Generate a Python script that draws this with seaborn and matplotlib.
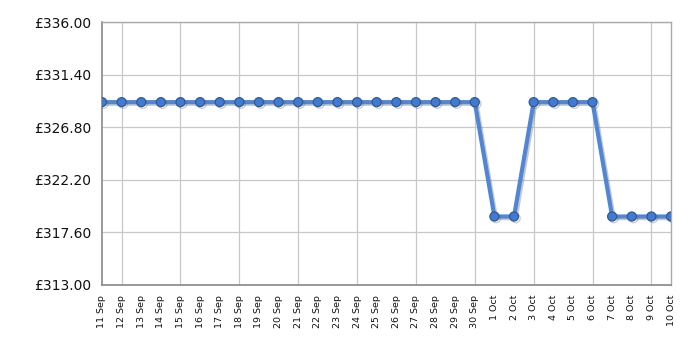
import matplotlib
matplotlib.use("Agg")
import matplotlib.pyplot as plt
import matplotlib.patheffects as pe
import seaborn as sns
import pandas as pd
import numpy as np

dates = ["11 Sep", "12 Sep", "13 Sep", "14 Sep", "15 Sep", "16 Sep", "17 Sep", "18 Sep",
         "19 Sep", "20 Sep", "21 Sep", "22 Sep", "23 Sep", "24 Sep", "25 Sep", "26 Sep",
         "27 Sep", "28 Sep", "29 Sep", "30 Sep", "1 Oct", "2 Oct", "3 Oct", "4 Oct",
         "5 Oct", "6 Oct", "7 Oct", "8 Oct", "9 Oct", "10 Oct"]
prices = [328.99] * 20 + [318.99, 318.99] + [328.99] * 4 + [318.99] * 4
y_ticks = [313.00, 317.60, 322.20, 326.80, 331.40, 336.00]
y_labels = ["£313.00", "£317.60", "£322.20", "£326.80", "£331.40", "£336.00"]

df = pd.DataFrame({"idx": range(len(dates)), "date": dates, "price": prices})

sns.set_style("white")
plt.rcParams["font.family"] = ["DejaVu Sans"]

fig = plt.figure(figsize=(7, 3.5), dpi=100)
ax = fig.add_axes([102 / 700, 1 - 285 / 350, 569 / 700, 263 / 350])

sns.lineplot(data=df, x="idx", y="price", ax=ax, color="#4f86d8", linewidth=3,
             marker="o", markersize=6.5, markerfacecolor="#3f7bd2",
             markeredgecolor="#2f5a96", markeredgewidth=0.9, zorder=5,
             path_effects=[pe.SimpleLineShadow(offset=(1.2, -1.2), shadow_color="#666666", alpha=0.35),
                           pe.Normal()])

ax.set_xlim(0, len(dates) - 1)
ax.set_ylim(313, 336)
ax.set_yticks(y_ticks)
ax.set_yticklabels(y_labels, fontsize=10, color="#111111")

ax.xaxis.remove_overlapping_locs = False
ax.set_xticks(df["idx"])
ax.set_xticklabels(dates, rotation=90, fontsize=6.8, color="#111111")
ax.set_xticks(df["idx"][1::3], minor=True)
ax.tick_params(axis="x", which="major", length=0, pad=7)
ax.tick_params(axis="x", which="minor", length=5, width=1, color="#333333", direction="out")
ax.tick_params(axis="y", length=5, width=1, color="#333333", direction="out", pad=3)

ax.grid(True, axis="x", which="minor", color="#c8c8c8", linewidth=0.9)
ax.grid(True, axis="y", which="major", color="#c8c8c8", linewidth=0.9)
ax.grid(False, axis="x", which="major")
ax.set_axisbelow(True)

for s in ["left", "bottom"]:
    ax.spines[s].set_color("#888888")
    ax.spines[s].set_linewidth(1.2)
for s in ["top", "right"]:
    ax.spines[s].set_color("#aaaaaa")
    ax.spines[s].set_linewidth(1)

ax.set_xlabel("")
ax.set_ylabel("")

fig.savefig("out.png", dpi=100)
